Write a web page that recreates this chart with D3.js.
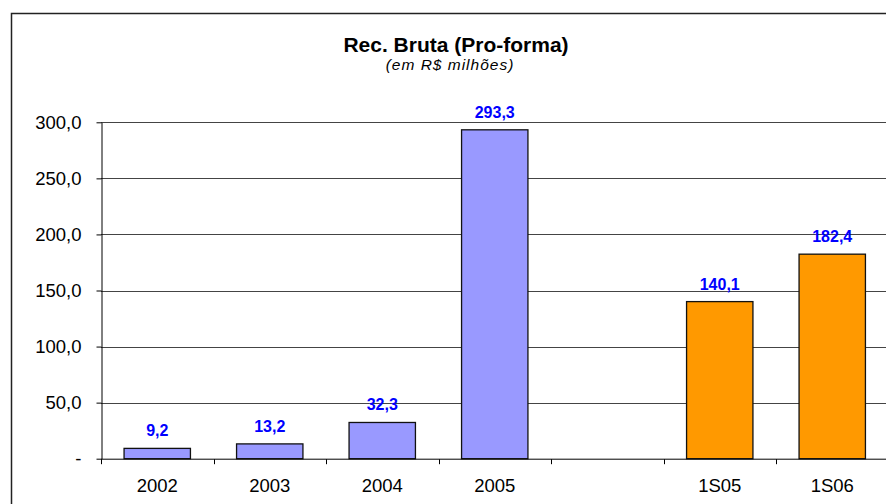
<!DOCTYPE html>
<html>
<head>
<meta charset="utf-8">
<title>Rec. Bruta (Pro-forma)</title>
<script src="https://d3js.org/d3.v7.min.js"></script>
<style>
	body { margin: 0; background: #fff; }
	svg text { font-family: "Liberation Sans", Arial, sans-serif; fill: #000; }
	.axis path, .axis line { stroke: #000; }
	.grid line { stroke: #444; }
	.lbl { fill: #0000ff; font-weight: bold; font-size: 16px; text-anchor: middle; }
</style>
</head>
<body>
<svg id="chart" width="886" height="504"></svg>
<script>
// data
var categories = ["2002", "2003", "2004", "2005", "", "1S05", "1S06"];
var annualValues = [9.2, 13.2, 32.3, 293.3, null, null, null];
var semesterValues = [null, null, null, null, null, 140.1, 182.4];
var yTicks = [0, 50, 100, 150, 200, 250, 300];

var svg = d3.select("#chart");

// outer frame
svg.append("rect")
	.attr("x", 11.5).attr("y", 13.5)
	.attr("width", 900).attr("height", 520)
	.attr("fill", "none").attr("stroke", "#222").attr("stroke-width", 1.5);

var plotLeft = 101, plotBottom = 458.7, plotTop = 122.3;
var bandW = 112.5;

var x = d3.scaleBand()
	.domain(categories.map(function(d, i){ return i; }))
	.range([plotLeft, plotLeft + bandW * categories.length])
	.paddingInner(0.41).paddingOuter(0.205);

var y = d3.scaleLinear().domain([0, 300]).range([plotBottom, plotTop]);

var fmt = function(v){ return v === 0 ? "-" : d3.format(".1f")(v).replace(".", ","); };

// gridlines
svg.append("g").attr("class", "grid")
	.selectAll("line").data(yTicks.slice(1)).enter().append("line")
	.attr("x1", plotLeft).attr("x2", 886)
	.attr("y1", function(d){ return Math.round(y(d)) + 0.5; })
	.attr("y2", function(d){ return Math.round(y(d)) + 0.5; });

// y axis
var yAxis = svg.append("g").attr("class", "axis")
	.attr("transform", "translate(" + (plotLeft + 0.5) + ",0)")
	.call(d3.axisLeft(y).tickValues(yTicks).tickFormat(fmt).tickSize(5).tickSizeOuter(0));
yAxis.selectAll("text").attr("font-size", 18.5).attr("x", -20).attr("font-family", null);

// bars
var series = [
	{ values: annualValues, color: "#9999ff" },
	{ values: semesterValues, color: "#ff9900" }
];
series.forEach(function(s){
	var g = svg.append("g");
	var pts = s.values.map(function(v, i){ return { i: i, v: v }; }).filter(function(d){ return d.v != null; });
	g.selectAll("rect").data(pts).enter().append("rect")
		.attr("x", function(d){ return x(d.i); })
		.attr("y", function(d){ return y(d.v); })
		.attr("width", x.bandwidth())
		.attr("height", function(d){ return plotBottom - y(d.v); })
		.attr("fill", s.color).attr("stroke", "#111").attr("stroke-width", 1.3);
	g.selectAll("text").data(pts).enter().append("text")
		.attr("class", "lbl")
		.attr("x", function(d){ return x(d.i) + x.bandwidth() / 2; })
		.attr("y", function(d){ return y(d.v) - 12; })
		.text(function(d){ return fmt(d.v); });
});

// x axis
var xAxis = svg.append("g").attr("class", "axis")
	.attr("transform", "translate(0," + (plotBottom + 0.5) + ")");
xAxis.append("line").attr("x1", plotLeft).attr("x2", 886);
xAxis.selectAll(".tk").data(d3.range(categories.length + 1)).enter().append("line")
	.attr("class", "tk")
	.attr("x1", function(d){ return Math.round(plotLeft + d * bandW) + 0.5; })
	.attr("x2", function(d){ return Math.round(plotLeft + d * bandW) + 0.5; })
	.attr("y1", 0).attr("y2", 5);
xAxis.selectAll("text").data(categories).enter().append("text")
	.attr("x", function(d, i){ return x(i) + x.bandwidth() / 2; })
	.attr("y", 33).attr("text-anchor", "middle").attr("font-size", 18.5)
	.text(function(d){ return d; });

// title
svg.append("text").attr("x", 456).attr("y", 52)
	.attr("text-anchor", "middle").attr("font-weight", "bold").attr("font-size", 21)
	.text("Rec. Bruta (Pro-forma)");
svg.append("text").attr("x", 450).attr("y", 70)
	.attr("text-anchor", "middle").attr("font-style", "italic").attr("font-size", 15.5)
	.attr("letter-spacing", 1)
	.text("(em R$ milhões)");
</script>
</body>
</html>
